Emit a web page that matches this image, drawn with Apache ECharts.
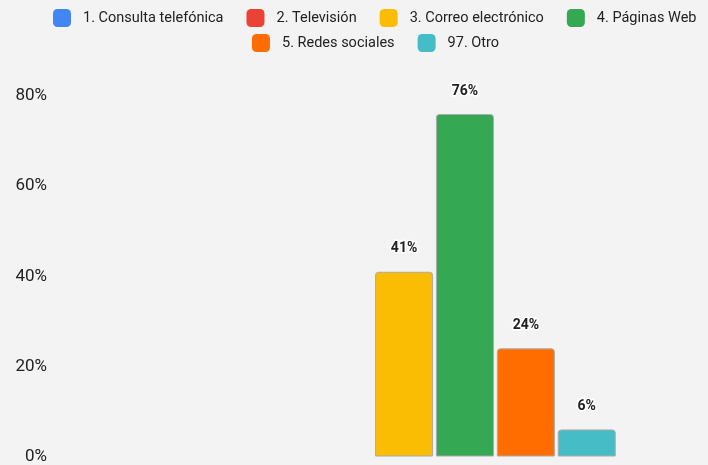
<!DOCTYPE html>
<html>
<head>
<meta charset="utf-8">
<script src="https://cdn.jsdelivr.net/npm/echarts@6/dist/echarts.min.js"></script>
<style>
html,body{margin:0;padding:0;background:#f3f3f3;}
#c{width:708px;height:465px;}
</style>
</head>
<body>
<div id="c"></div>
<script>
const categories = [''];
const seriesNames = ['1. Consulta telefónica','2. Televisión','3. Correo electrónico','4. Páginas Web','5. Redes sociales','97. Otro'];
const seriesValues = [0, 0, 41, 76, 24, 6];
const seriesColors = ['#4285F4','#EA4335','#FBBC04','#34A853','#FF6D01','#46BDC6'];
const yTicks = [0, 20, 40, 60, 80];

const chart = echarts.init(document.getElementById('c'));
const series = seriesNames.map((name, i) => ({
  name: name,
  type: 'bar',
  barWidth: 58,
  barGap: '5%',
  data: [{
    value: seriesValues[i],
    itemStyle: {
      borderColor: seriesValues[i] > 0 ? '#aaaaaa' : 'transparent',
      borderWidth: seriesValues[i] > 0 ? 1 : 0
    },
    label: { show: seriesValues[i] > 0 }
  }],
  itemStyle: { color: seriesColors[i], borderRadius: [3,3,0,0] },
  label: {
    show: true,
    position: 'top',
    distance: 16,
    formatter: p => p.value + '%',
    fontFamily: 'Roboto',
    fontWeight: 'bold',
    fontSize: 14,
    color: '#222',
    textBorderColor: '#fff',
    textBorderWidth: 3
  }
}));

const legendCommon = {
  icon: 'roundRect',
  itemWidth: 18,
  itemHeight: 18,
  itemGap: 23,
  textStyle: { fontFamily: 'Roboto', fontSize: 14.5, color: '#222', padding: [0,0,0,7] },
  padding: 0
};

chart.setOption({
  backgroundColor: '#f3f3f3',
  animation: false,
  legend: [
    Object.assign({}, legendCommon, { data: seriesNames.slice(0,4), left: 53, top: 9 }),
    Object.assign({}, legendCommon, { data: seriesNames.slice(4), left: 252, top: 34 })
  ],
  grid: { left: 161, top: 96, right: 0, bottom: 7, containLabel: false },
  xAxis: {
    type: 'category',
    data: categories,
    axisLine: { show: false },
    axisTick: { show: false },
    axisLabel: { show: false }
  },
  yAxis: {
    type: 'value',
    min: yTicks[0],
    max: yTicks[yTicks.length-1],
    interval: 20,
    splitLine: { show: false },
    axisLine: { show: false },
    axisTick: { show: false },
    axisLabel: { formatter: '{value}%', fontFamily: 'Roboto', fontSize: 17, color: '#222', margin: 114 }
  },
  series: series
});
</script>
</body>
</html>
